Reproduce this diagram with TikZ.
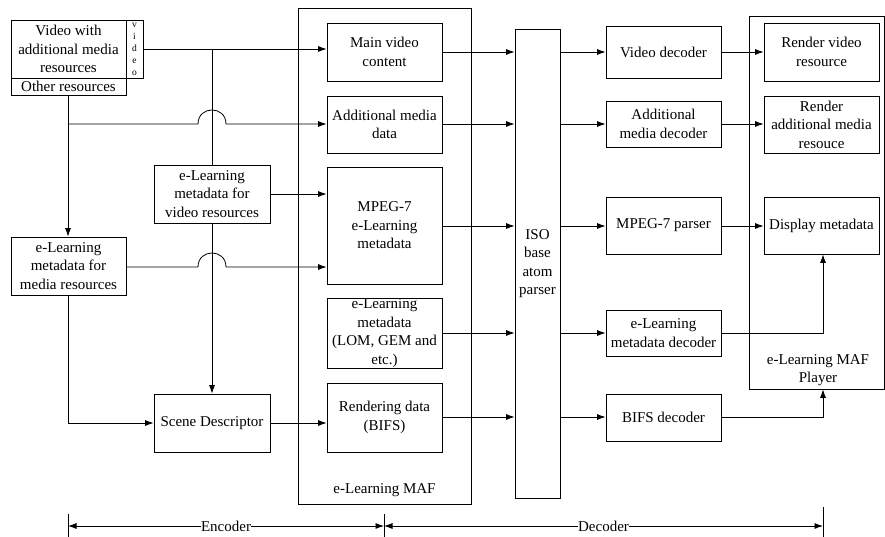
\documentclass[tikz,border=0pt]{standalone}
\usepackage{fontspec}
\setmainfont{Liberation Serif}
\usetikzlibrary{arrows.meta}
\tikzset{
  box/.style={draw, line width=0.8pt, inner sep=0pt, align=center, font=\fontsize{15}{18.5}\selectfont},
  frame/.style={draw, line width=0.8pt, inner sep=0pt},
  conn/.style={line width=0.8pt},
  arr/.style={line width=0.8pt, -{Latex[length=8.5pt,width=6pt]}},
  biarr/.style={line width=0.8pt, {Latex[length=8.5pt,width=6pt]}-{Latex[length=8.5pt,width=6pt]}},
  lbl/.style={font=\fontsize{15}{18.5}\selectfont, align=center, inner sep=1pt},
}
\begin{document}
\begin{tikzpicture}[x=1pt,y=-1pt]
\useasboundingbox (0,0) rectangle (885,537);
% encoder side
\node[box, minimum width=115pt, minimum height=58pt] (vid) at (68.5,49) {Video with\\additional media\\resources};
\node[frame, minimum width=17pt, minimum height=58pt] (vstrip) at (134.5,49) {};
\node[font=\fontsize{9.5}{12}\selectfont, align=center, inner sep=0pt] (vtxt) at (134.5,49) {v\\i\\d\\e\\o};
\node[box, minimum width=115pt, minimum height=17pt] (other) at (68.5,86.5) {Other resources};
\node[box, minimum width=116pt, minimum height=58pt] (elv) at (212,194) {e-Learning\\metadata for\\video resources};
\node[box, minimum width=115pt, minimum height=58pt] (elm) at (68.5,266) {e-Learning\\metadata for\\media resources};
\node[box, minimum width=116pt, minimum height=58pt] (scene) at (212,423) {Scene Descriptor};
% MAF
\node[frame, minimum width=173pt, minimum height=496pt] (maf) at (384.5,256) {};
\node[lbl] (maflbl) at (384.5,490) {e-Learning MAF};
\node[box, minimum width=115pt, minimum height=58pt] (main) at (384.5,52) {Main video\\content};
\node[box, minimum width=115pt, minimum height=57pt] (addm) at (384.5,124.5) {Additional media\\data};
\node[box, minimum width=115pt, minimum height=117pt] (mpeg) at (384.5,225.5) {MPEG-7\\e-Learning\\metadata};
\node[box, minimum width=115pt, minimum height=70pt] (lom) at (384.5,333) {e-Learning\\metadata\\(LOM, GEM and\\etc.)};
\node[box, minimum width=115pt, minimum height=69pt] (rend) at (384.5,417.5) {Rendering data\\(BIFS)};
% ISO
\node[box, minimum width=45pt, minimum height=469pt] (iso) at (537.5,263.5) {ISO\\base\\atom\\parser};
% decoders
\node[box, minimum width=115pt, minimum height=52pt] (vdec) at (663.5,52) {Video decoder};
\node[box, minimum width=115pt, minimum height=46pt] (amdec) at (663.5,124) {Additional\\media decoder};
\node[box, minimum width=115pt, minimum height=57pt] (mpar) at (663.5,225.5) {MPEG-7 parser};
\node[box, minimum width=115pt, minimum height=46pt] (eldec) at (663.5,333) {e-Learning\\metadata decoder};
\node[box, minimum width=115pt, minimum height=47pt] (bifs) at (663.5,417.5) {BIFS decoder};
% player
\node[frame, minimum width=135pt, minimum height=373pt] (player) at (816.5,202.5) {};
\node[lbl] (plbl) at (818,370) {e-Learning MAF\\Player};
\node[box, minimum width=115pt, minimum height=58pt] (rvid) at (821.5,52) {Render video\\resource};
\node[box, minimum width=115pt, minimum height=57pt] (radd) at (821.5,124.5) {Render\\additional media\\resouce};
\node[box, minimum width=115pt, minimum height=57pt] (disp) at (821.5,225.5) {Display metadata};
% coordinates
\coordinate (j1) at (212,49);
\coordinate (b1) at (68,124);
\coordinate (b2) at (68,423);
\coordinate (e1) at (823,333);
\coordinate (e2) at (823,417);
% encoder connectors
\draw[arr] (vstrip.east) -- (main.west |- vstrip.east);
\draw[conn] (j1) -- (elv.north);
\draw[arr] (elv.south) -- (scene.north);
\draw[arr] (other.south -| b1) -- (elm.north -| b1);
\draw[arr] (b1) -- (198,124) .. controls (198,105.3) and (226,105.3) .. (226,124) -- (addm.west |- b1);
\draw[arr] (elv.east) -- (mpeg.west |- elv.east);
\draw[arr] (elm.east |- 0,267) -- (198,267) .. controls (198,248.3) and (226,248.3) .. (226,267) -- (mpeg.west |- 0,267);
\draw[conn] (elm.south -| b1) -- (b2);
\draw[arr] (b2) -- (scene.west);
\draw[arr] (scene.east) -- (rend.west |- scene.east);
% to ISO
\draw[arr] (main.east) -- (iso.west |- main.east);
\draw[arr] (addm.east |- 0,124) -- (iso.west |- 0,124);
\draw[arr] (mpeg.east |- 0,226) -- (iso.west |- 0,226);
\draw[arr] (lom.east) -- (iso.west |- lom.east);
\draw[arr] (rend.east |- 0,417) -- (iso.west |- 0,417);
% ISO to decoders
\draw[arr] (iso.east |- vdec.west) -- (vdec.west);
\draw[arr] (iso.east |- amdec.west) -- (amdec.west);
\draw[arr] (iso.east |- 0,226) -- (mpar.west |- 0,226);
\draw[arr] (iso.east |- eldec.west) -- (eldec.west);
\draw[arr] (iso.east |- 0,417) -- (bifs.west |- 0,417);
% decoders to player
\draw[arr] (vdec.east) -- (rvid.west |- vdec.east);
\draw[arr] (amdec.east) -- (radd.west |- amdec.east);
\draw[arr] (mpar.east |- 0,226) -- (disp.west |- 0,226);
\draw[arr] (eldec.east) -- (e1) -- (disp.south -| e1);
\draw[arr] (bifs.east |- e2) -- (e2) -- (player.south -| e2);
% encoder / decoder scale
\coordinate (t1) at (68,526);
\coordinate (t2) at (384,526);
\coordinate (t3) at (823,526);
\draw[conn] (68,514) -- (68,537);
\draw[conn] (384,514) -- (384,537);
\draw[conn] (823,507) -- (823,537);
\draw[biarr] (t1) -- node[lbl, fill=white, inner sep=0pt] {Encoder} (t2);
\draw[biarr] (t2) -- node[lbl, fill=white, inner sep=0pt] {Decoder} (t3);
\end{tikzpicture}
\end{document}
